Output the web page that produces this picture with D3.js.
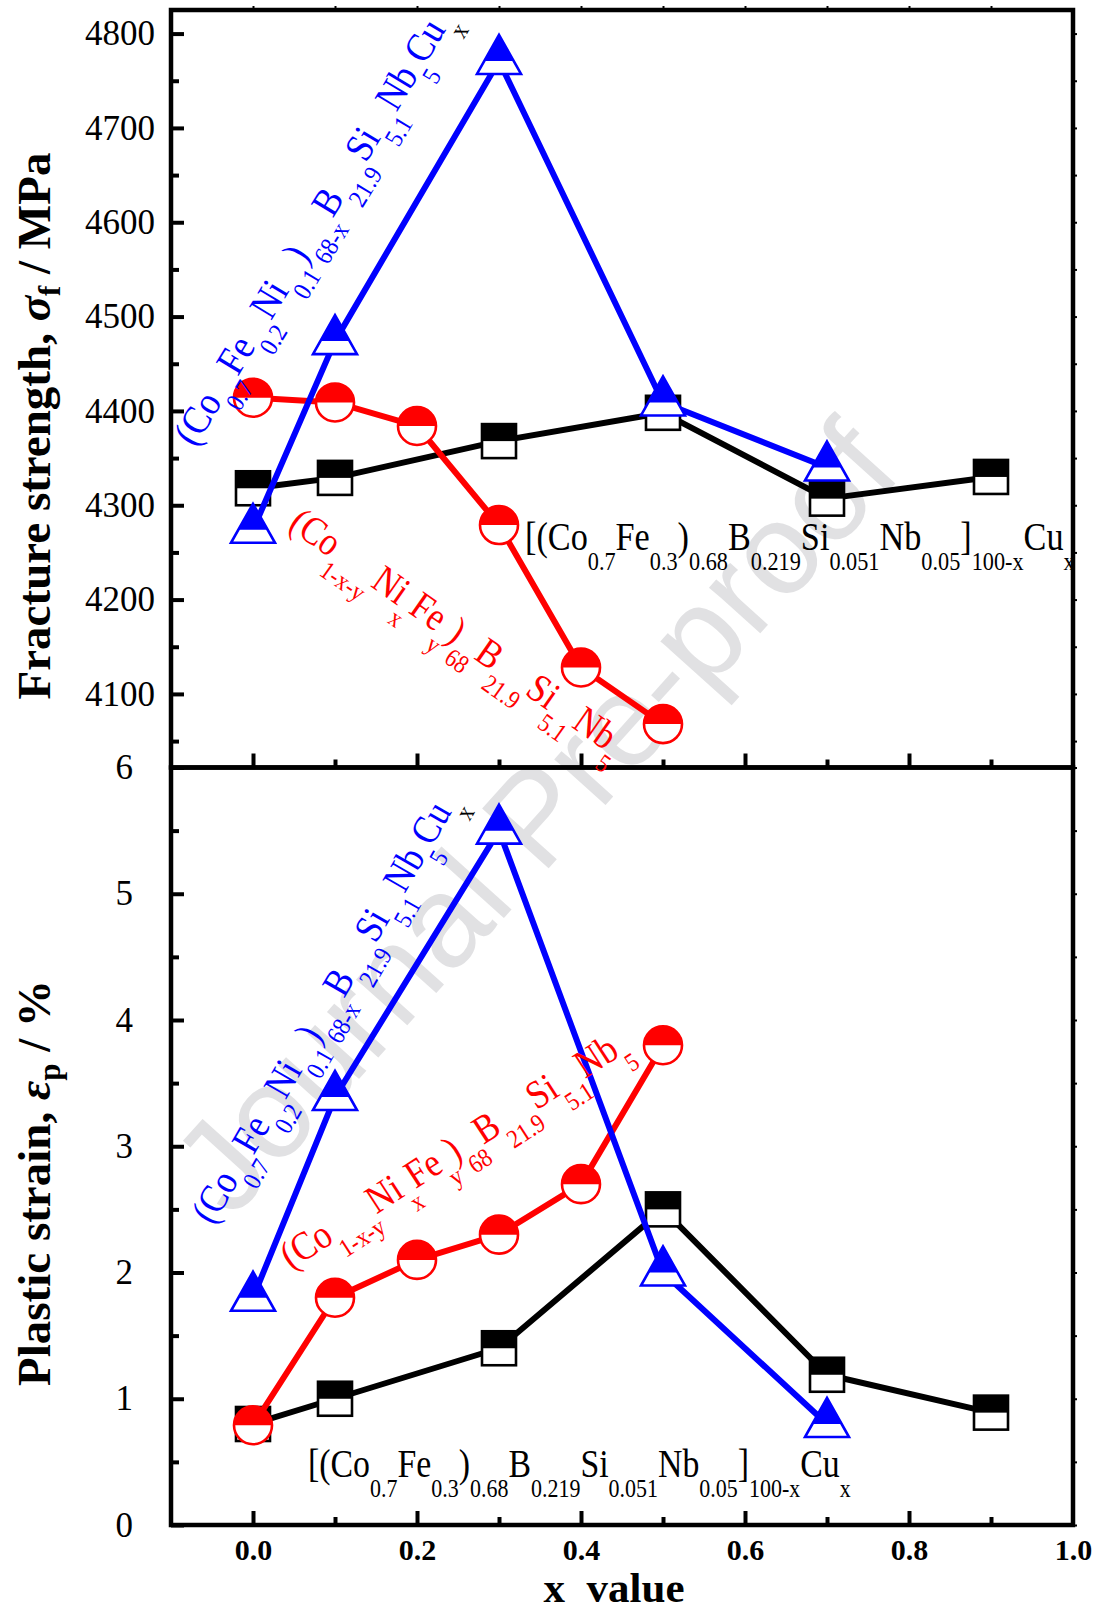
<!DOCTYPE html>
<html>
<head>
<meta charset="utf-8">
<script src="https://cdn.jsdelivr.net/npm/d3@7"></script>
<style>
body { margin: 0; background: #fff; }
svg text { font-family: "Liberation Serif", "Times New Roman", serif; }
</style>
</head>
<body>
<div id="vis"></div>
<script>
// ---- data ----
var cu_x = [0, 0.1, 0.3, 0.5, 0.7, 0.9];
var cu_strength = [4318, 4329, 4368, 4398, 4307, 4330];
var cu_strain = [0.80, 1.00, 1.40, 2.50, 1.19, 0.89];

var ni_x = [0, 0.1, 0.2, 0.3, 0.4, 0.5];
var ni_strength = [4414, 4409, 4384, 4279, 4128, 4068];
var ni_strain = [0.79, 1.80, 2.10, 2.30, 2.70, 3.80];

var cux_x = [0, 0.1, 0.3, 0.5, 0.7];
var cux_strength = [4274, 4474, 4771, 4409, 4340];
var cux_strain = [1.80, 3.39, 5.50, 2.00, 0.80];

var strength_ticks = [4100, 4200, 4300, 4400, 4500, 4600, 4700, 4800];
var strain_ticks = [0, 1, 2, 3, 4, 5, 6];
var x_ticks = [0, 0.2, 0.4, 0.6, 0.8, 1.0];

// formula labels: [text, subscript?]
var label_cu = [['[(Co', 0], ['0.7', 1], ['Fe', 0], ['0.3', 1], [')', 0], ['0.68', 1], ['B', 0], ['0.219', 1],
    ['Si', 0], ['0.051', 1], ['Nb', 0], ['0.05', 1], [']', 0], ['100-x', 1], ['Cu', 0], ['x', 1]];
var label_ni = [['(Co', 0], ['1-x-y', 1], ['Ni', 0], ['x', 1], ['Fe', 0], ['y', 1], [')', 0], ['68', 1],
    ['B', 0], ['21.9', 1], ['Si', 0], ['5.1', 1], ['Nb', 0], ['5', 1]];
var label_cux = [['(Co', 0], ['0.7', 1], ['Fe', 0], ['0.2', 1], ['Ni', 0], ['0.1', 1], [')', 0], ['68-x', 1],
    ['B', 0], ['21.9', 1], ['Si', 0], ['5.1', 1], ['Nb', 0], ['5', 1], ['Cu', 0], ['x', 2]];

var W = 1095, H = 1613;
var left = 171, right = 1073;
var top1 = 10, mid = 767.5, bot = 1525;

var svg = d3.select('#vis')
    .append('svg')
    .attr('width', W)
    .attr('height', H);

// watermark
svg.append('text')
    .attr('transform', 'translate(232,1220) rotate(-48)')
    .style('font-family', '"Liberation Sans", Arial, sans-serif')
    .attr('font-size', 130)
    .attr('fill', '#e1e1e3')
    .text('Journal Pre-proof');

var x_scale = d3.scaleLinear().domain([-0.1, 1.0]).range([left, right]);
var y_top = d3.scaleLinear().domain([4022, 4825]).range([mid, top1]);
var y_bot = d3.scaleLinear().domain([0, 6]).range([bot, mid]);

function drawAxes(y_scale, ticks, minor, y0, y1, pad) {
    var g = svg.append('g');
    // left major
    g.append('g')
        .attr('transform', 'translate(' + left + ',0)')
        .call(d3.axisLeft(y_scale).tickValues(ticks).tickSize(-13).tickPadding(pad).tickFormat(d3.format('d')))
        .call(function(a) {
            a.select('.domain').remove();
            a.selectAll('line').attr('stroke-width', 4);
            a.selectAll('text').attr('font-size', 35).attr('fill', '#000')
                .style('font-family', '"Liberation Serif", serif');
        });
    // left minor
    g.append('g')
        .attr('transform', 'translate(' + left + ',0)')
        .call(d3.axisLeft(y_scale).tickValues(minor).tickSize(-8).tickFormat(''))
        .call(function(a) {
            a.select('.domain').remove();
            a.selectAll('line').attr('stroke-width', 4);
        });
    // right small outward ticks
    g.append('g')
        .attr('transform', 'translate(' + right + ',0)')
        .call(d3.axisRight(y_scale).tickValues(ticks.concat(minor)).tickSize(4).tickFormat(''))
        .call(function(a) {
            a.select('.domain').remove();
            a.selectAll('line').attr('stroke-width', 2);
        });
    // bottom x ticks (inward)
    var majors = x_ticks.slice(0, 5);
    var minors = [0.1, 0.3, 0.5, 0.7, 0.9];
    g.append('g')
        .attr('transform', 'translate(0,' + y0 + ')')
        .call(d3.axisBottom(x_scale).tickValues(majors).tickSize(-14).tickFormat(''))
        .call(function(a) {
            a.select('.domain').remove();
            a.selectAll('line').attr('stroke-width', 4);
        });
    g.append('g')
        .attr('transform', 'translate(0,' + y0 + ')')
        .call(d3.axisBottom(x_scale).tickValues(minors).tickSize(-8).tickFormat(''))
        .call(function(a) {
            a.select('.domain').remove();
            a.selectAll('line').attr('stroke-width', 4);
        });
    // top small outward ticks
    g.append('g')
        .attr('transform', 'translate(0,' + y1 + ')')
        .call(d3.axisTop(x_scale).tickValues(majors.concat(minors)).tickSize(4).tickFormat(''))
        .call(function(a) {
            a.select('.domain').remove();
            a.selectAll('line').attr('stroke-width', 2);
        });
    // frame
    g.append('rect')
        .attr('x', left).attr('y', y1)
        .attr('width', right - left).attr('height', y0 - y1)
        .attr('fill', 'none').attr('stroke', '#000').attr('stroke-width', 4.5);
}

drawAxes(y_top, strength_ticks, d3.range(4050, 4825, 100), mid, top1, 16);
drawAxes(y_bot, strain_ticks, [0.5, 1.5, 2.5, 3.5, 4.5, 5.5], bot, mid, 38);

// x tick labels
svg.append('g')
    .attr('transform', 'translate(0,' + bot + ')')
    .call(d3.axisBottom(x_scale).tickValues(x_ticks).tickSize(0).tickPadding(14).tickFormat(d3.format('.1f')))
    .call(function(a) {
        a.select('.domain').remove();
        a.selectAll('text').attr('font-size', 30).attr('font-weight', 'bold').attr('fill', '#000')
            .style('font-family', '"Liberation Serif", serif');
    });

// ---- series ----
var shapes = {
    square: function(g, c) {
        var s = 17;
        g.append('rect').attr('x', -s).attr('y', -s).attr('width', 2 * s).attr('height', 2 * s).attr('fill', '#fff');
        g.append('rect').attr('x', -s).attr('y', -s).attr('width', 2 * s).attr('height', s).attr('fill', c);
        g.append('rect').attr('x', -s).attr('y', -s).attr('width', 2 * s).attr('height', 2 * s)
            .attr('fill', 'none').attr('stroke', c).attr('stroke-width', 2.6);
    },
    circle: function(g, c) {
        var r = 19;
        g.append('circle').attr('r', r).attr('fill', '#fff');
        g.append('path').attr('d', 'M' + (-r) + ',0A' + r + ',' + r + ' 0 0 1 ' + r + ',0Z').attr('fill', c);
        g.append('circle').attr('r', r).attr('fill', 'none').attr('stroke', c).attr('stroke-width', 2.6);
    },
    triangle: function(g, c) {
        var hw = 22, up = 26, dn = 13;
        var hm = hw * up / (up + dn);
        var tri = [[0, -up], [hw, dn], [-hw, dn]];
        g.append('polygon').attr('points', tri.join(' ')).attr('fill', '#fff');
        g.append('polygon').attr('points', [[0, -up], [hm, 0], [-hm, 0]].join(' ')).attr('fill', c);
        g.append('polygon').attr('points', tri.join(' ')).attr('fill', 'none')
            .attr('stroke', c).attr('stroke-width', 2.6).attr('stroke-linejoin', 'miter');
    }
};

function drawSeries(xv, yv, y_scale, colour, shape) {
    var pts = xv.map(function(d, i) { return [d, yv[i]]; });
    var line = d3.line()
        .x(function(d) { return x_scale(d[0]); })
        .y(function(d) { return y_scale(d[1]); });
    svg.append('path')
        .datum(pts)
        .attr('d', line)
        .attr('fill', 'none')
        .attr('stroke', colour)
        .attr('stroke-width', 6)
        .attr('stroke-linejoin', 'round');
    svg.append('g').selectAll('g')
        .data(pts)
        .enter()
        .append('g')
        .attr('transform', function(d) { return 'translate(' + x_scale(d[0]) + ',' + y_scale(d[1]) + ')'; })
        .each(function() { shapes[shape](d3.select(this), colour); });
}

drawSeries(cu_x, cu_strength, y_top, '#000', 'square');
drawSeries(ni_x, ni_strength, y_top, '#ff0000', 'circle');
drawSeries(cux_x, cux_strength, y_top, '#0000ff', 'triangle');

drawSeries(cu_x, cu_strain, y_bot, '#000', 'square');
drawSeries(ni_x, ni_strain, y_bot, '#ff0000', 'circle');
drawSeries(cux_x, cux_strain, y_bot, '#0000ff', 'triangle');

// ---- formula labels ----
// the original uses a narrow face, so each label is squeezed to its length in the figure
function formula(x, y, angle, len, parts, colour) {
    var size = 40, sub = 26, shift = 20;
    var t = svg.append('text')
        .attr('fill', colour)
        .attr('font-size', size);
    var level = 0;
    parts.forEach(function(p) {
        var lv = p[1] ? shift : 0;
        t.append('tspan')
            .attr('dy', lv - level)
            .attr('font-size', p[1] ? sub : size)
            .attr('fill', p[1] === 2 ? '#000' : null)
            .text(p[0]);
        level = lv;
    });
    var k = len / t.node().getComputedTextLength();
    t.attr('transform', 'translate(' + x + ',' + y + ') rotate(' + angle + ') scale(' + k + ',1)');
    return t;
}

formula(525, 550, 0, 550, label_cu, '#000');
formula(308, 1477, 0, 543, label_cu, '#000');
formula(195, 448, -59, 500, label_cux, '#0000ff');
formula(213, 1226, -60, 490, label_cux, '#0000ff');
formula(287, 528, 35, 400, label_ni, '#ff0000');
formula(291, 1270, -33, 405, label_ni, '#ff0000');

// ---- axis titles ----
function yTitle(cy, main, greek, subs, unit) {
    var t = svg.append('text')
        .attr('transform', 'translate(50,' + cy + ') rotate(-90)')
        .attr('text-anchor', 'middle')
        .attr('font-weight', 'bold')
        .attr('font-size', 47)
        .attr('fill', '#000');
    t.append('tspan').text(main);
    t.append('tspan').attr('font-style', 'italic').text(greek);
    t.append('tspan').attr('font-size', 31).attr('dy', 10).text(subs);
    t.append('tspan').attr('dy', -10).text(unit);
}
yTitle(426, 'Fracture strength, ', 'σ', 'f', ' / MPa');
yTitle(1183, 'Plastic strain, ', 'ε', 'p', ' / %');

svg.append('text')
    .attr('x', 614)
    .attr('y', 1602)
    .attr('text-anchor', 'middle')
    .attr('font-weight', 'bold')
    .attr('font-size', 43)
    .style('white-space', 'pre')
    .text('x  value');
</script>
</body>
</html>
